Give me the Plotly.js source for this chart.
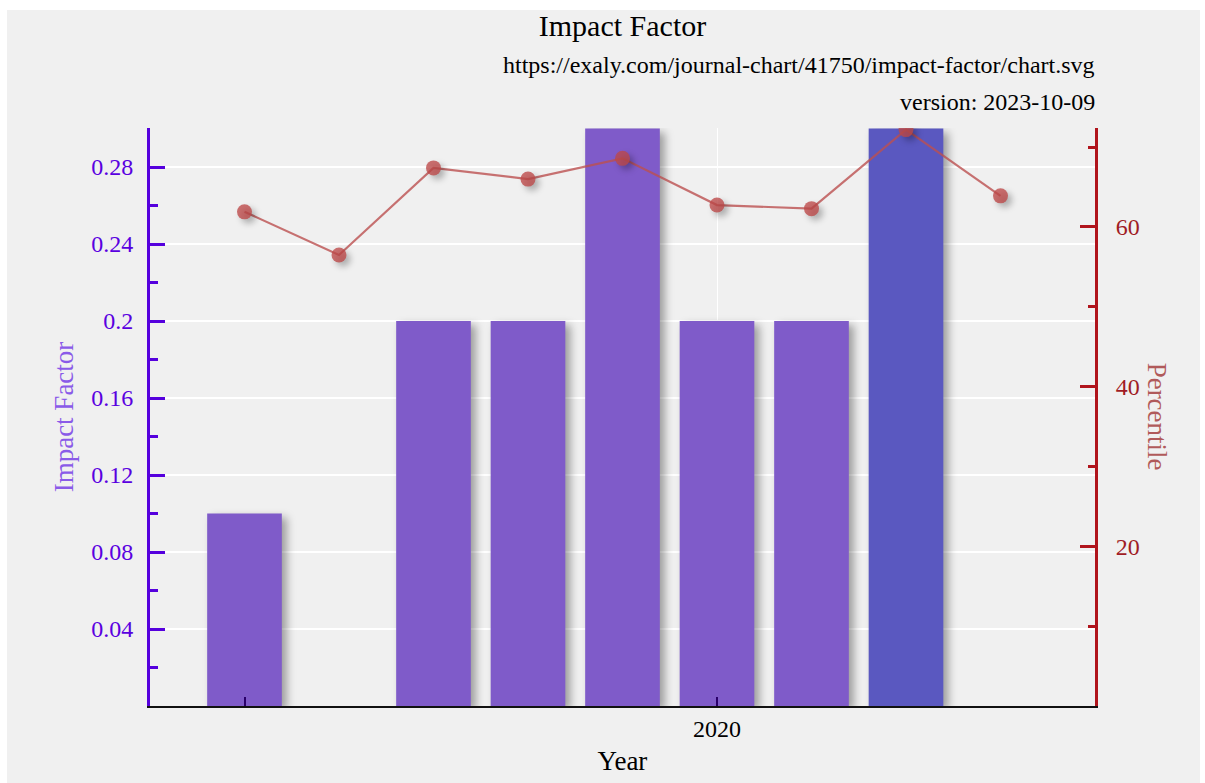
<!DOCTYPE html>
<html>
<head>
<meta charset="utf-8">
<script src="https://cdn.plot.ly/plotly-3.0.1.min.js"></script>
<style>
  html, body { margin: 0; padding: 0; background: #ffffff; }
  #chart { position: absolute; left: 7px; top: 10px; width: 1193px; height: 773px; }
  .barlayer .point path { filter: drop-shadow(5px 4px 4px rgba(0,0,0,0.35)); }
  .scatterlayer .points path { filter: drop-shadow(4px 4px 3px rgba(0,0,0,0.35)); }
</style>
</head>
<body>
<div id="chart"></div>
<script>
const years = [2015, 2016, 2017, 2018, 2019, 2020, 2021, 2022];
const impactFactor = [0.1, 0, 0.2, 0.2, 0.3, 0.2, 0.2, 0.3];
const barColors = ['#7f5bc9', '#7f5bc9', '#7f5bc9', '#7f5bc9', '#7f5bc9', '#7f5bc9', '#7f5bc9', '#5a58c0'];
const pctYears = [2015, 2016, 2017, 2018, 2019, 2020, 2021, 2022, 2023];
const percentile = [61.9, 56.5, 67.4, 66.0, 68.6, 62.75, 62.3, 72.2, 63.9];
const xTickVals = [2015, 2020];
const xTickText = ['', '2020'];
const xGridVals = [2020];
const yTickVals = [0.04, 0.08, 0.12, 0.16, 0.2, 0.24, 0.28];
const yTickText = ['0.04', '0.08', '0.12', '0.16', '0.2', '0.24', '0.28'];
const y2TickVals = [20, 40, 60];

const serif = 'Liberation Serif, Times New Roman, serif';

const traces = [
  {
    type: 'bar', x: years, y: impactFactor, width: 0.79,
    marker: { color: barColors, line: { width: 0 } },
    hoverinfo: 'x+y', showlegend: false
  },
  {
    type: 'scatter', mode: 'lines+markers', x: pctYears, y: percentile, yaxis: 'y2',
    line: { color: 'rgba(188,80,80,0.8)', width: 2.2 },
    marker: { color: 'rgba(188,72,72,0.78)', size: 15 },
    showlegend: false
  }
];

const layout = {
  width: 1193, height: 773,
  paper_bgcolor: '#f0f0f0', plot_bgcolor: '#f0f0f0',
  margin: { l: 143, r: 105, t: 118, b: 77 },
  font: { family: serif, size: 24, color: '#000' },
  title: { text: 'Impact Factor', x: 0.5, xref: 'paper', y: 0.994, yanchor: 'top', font: { family: serif, size: 30, color: '#000' } },
  xaxis: {
    range: [2014, 2024], tickvals: xTickVals, ticktext: xTickText,
    ticks: 'inside', ticklen: 9, tickwidth: 2, tickcolor: '#2a006a',
    minor: { tickvals: xGridVals, ticks: '', showgrid: true, gridcolor: '#ffffff', gridwidth: 1 },
    showline: true, linecolor: '#111', linewidth: 2,
    showgrid: false,
    zeroline: false, tickfont: { family: serif, size: 24, color: '#000' },
    title: { text: 'Year', font: { family: serif, size: 27, color: '#000' }, standoff: 10 }
  },
  yaxis: {
    range: [0, 0.3003], tickvals: yTickVals, ticktext: yTickText,
    ticks: 'inside', ticklen: 15, tickwidth: 3, tickcolor: '#5500dd',
    minor: { dtick: 0.02, ticks: 'inside', ticklen: 8, tickwidth: 3, tickcolor: '#5500dd', showgrid: false },
    showline: true, linecolor: '#5500dd', linewidth: 3,
    showgrid: true, gridcolor: '#ffffff', gridwidth: 1.5,
    zeroline: false, tickfont: { family: serif, size: 24, color: '#5a00e0' },
    ticklabelstandoff: 9,
    title: { text: 'Impact Factor', font: { family: serif, size: 27, color: '#8a5ae8' }, standoff: 10 }
  },
  yaxis2: {
    overlaying: 'y', side: 'right', range: [0, 72.4],
    tickvals: y2TickVals,
    ticks: 'inside', ticklen: 15, tickwidth: 3, tickcolor: '#b0141c',
    minor: { dtick: 10, ticks: 'inside', ticklen: 7, tickwidth: 3, tickcolor: '#b0141c', showgrid: false },
    showline: true, linecolor: '#b0141c', linewidth: 3,
    showgrid: false, zeroline: false,
    ticklabelstandoff: 13,
    tickfont: { family: serif, size: 24, color: '#a01c24' }
  },
  annotations: [
    { text: 'https://exaly.com/journal-chart/41750/impact-factor/chart.svg', xref: 'paper', yref: 'paper',
      x: 1.002, y: 0, xanchor: 'right', yanchor: 'middle', showarrow: false,
      font: { family: serif, size: 24, color: '#000' } },
    { text: 'version: 2023-10-09', xref: 'paper', yref: 'paper',
      x: 1.002, y: 0, xanchor: 'right', yanchor: 'middle', showarrow: false,
      font: { family: serif, size: 24, color: '#000' } },
    { text: 'Percentile', xref: 'paper', yref: 'paper', x: 1.066, y: 0.5,
      xanchor: 'center', yanchor: 'middle', textangle: 90, showarrow: false,
      font: { family: serif, size: 27, color: '#b05a5a' } }
  ]
};

layout.annotations[0].y = 1 + (118 - 55) / (773 - 118 - 77);
layout.annotations[1].y = 1 + (118 - 92) / (773 - 118 - 77);

Plotly.newPlot('chart', traces, layout, { displayModeBar: false, staticPlot: true });
</script>
</body>
</html>
